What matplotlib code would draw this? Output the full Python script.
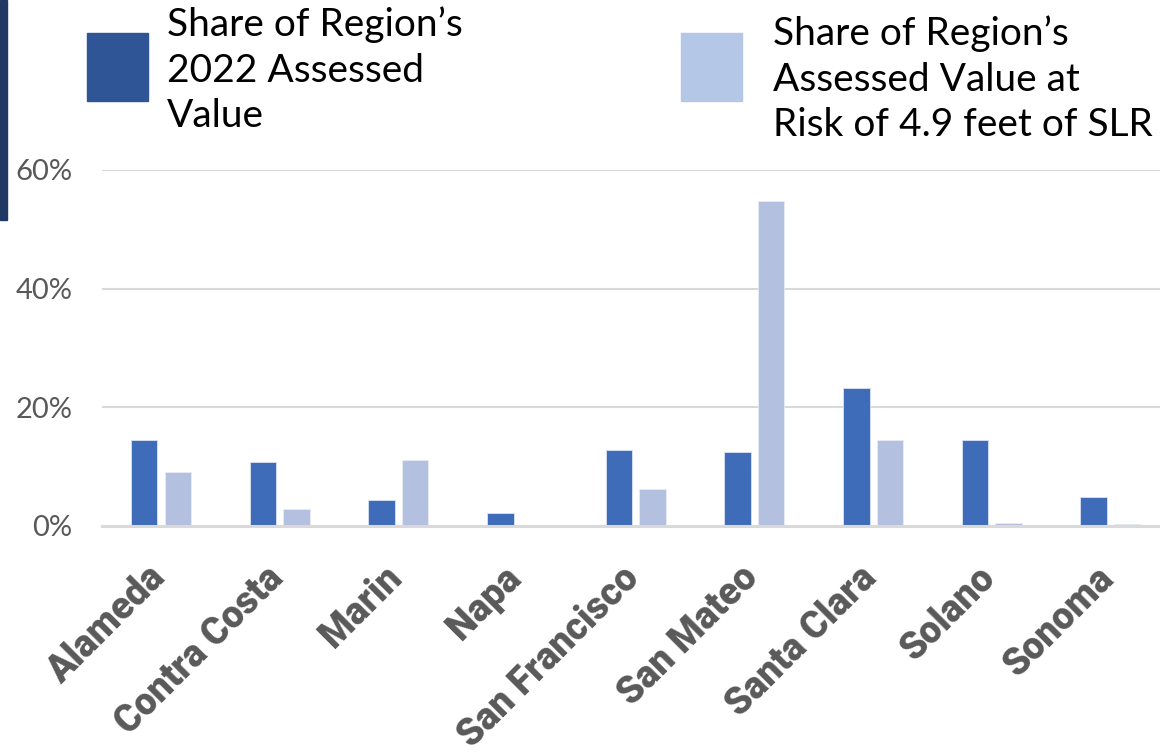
import matplotlib
matplotlib.use("Agg")
import matplotlib.pyplot as plt
from matplotlib.patches import Rectangle
from matplotlib.transforms import ScaledTranslation
import numpy as np

categories = ["Alameda", "Contra Costa", "Marin", "Napa", "San Francisco",
              "San Mateo", "Santa Clara", "Solano", "Sonoma"]
share_assessed = [14.5, 10.7, 4.3, 2.2, 12.7, 12.4, 23.3, 14.4, 4.9]
share_at_risk = [9.1, 2.8, 11.1, 0.15, 6.2, 54.7, 14.5, 0.5, 0.25]
yticks = [0, 20, 40, 60]
ytick_labels = ["0%", "20%", "40%", "60%"]
legend_labels = ["Share of Region\u2019s\n2022 Assessed\nValue",
                 "Share of Region\u2019s\nAssessed Value at\nRisk of 4.9 feet of SLR"]

W, H = 1160, 754
fig = plt.figure(figsize=(W / 100, H / 100), dpi=100)
fig.patch.set_facecolor("white")

spacing = 118.67
left_px = 161 - spacing / 2
ax = fig.add_axes([left_px / W, (H - 525.7) / H, (W - left_px) / W, (525.7 - 170) / H])
xlim_right = -0.5 + (W - left_px) / spacing

x = np.arange(len(categories))
bw = 0.223
off = 0.141
dark = "#3F6CB9"
light = "#B4C0E0"
ax.bar(x - off, share_assessed, width=bw, color=dark, edgecolor="#dbe3f3", linewidth=0.6, zorder=3)
ax.bar(x + off, share_at_risk, width=bw, color=light, edgecolor="#e8ecf6", linewidth=0.6, zorder=3)

ax.set_xlim(-0.5, xlim_right)
ax.set_ylim(0, 60)
ax.set_yticks(yticks)
ax.set_yticklabels(ytick_labels)
ax.yaxis.grid(True, color="#d9d9d9", linewidth=1.5, zorder=0)
ax.set_axisbelow(True)
for s in ["top", "right", "left"]:
    ax.spines[s].set_visible(False)
ax.spines["bottom"].set_color("#d9d9d9")
ax.spines["bottom"].set_linewidth(2.2)
ax.spines["bottom"].set_zorder(4)
ax.tick_params(axis="y", length=0, pad=21, labelsize=21, labelcolor="#595959")
ax.tick_params(axis="x", length=0, pad=24)
for lab in ax.get_yticklabels():
    lab.set_fontfamily("Lato")
    lab.set_fontweight("normal")

ax.set_xticks(x)
ax.set_xticklabels(categories, rotation=45, ha="right", va="top",
                   rotation_mode="anchor", fontsize=27, fontweight="black",
                   color="#595959", fontfamily="Roboto")
shift = ScaledTranslation(-15 / 100, 0, fig.dpi_scale_trans)
for lab in ax.get_xticklabels():
    lab.set_transform(lab.get_transform() + shift)

fig.patches.append(Rectangle((0, (H - 220) / H), 7 / W, 220 / H, transform=fig.transFigure,
                             color="#203864", zorder=5))

legend_colors = ["#2F5597", "#B4C7E7"]
sq_x = [87, 681]
txt_x = [167, 773]
txt_y = [6, 15]
for lbl, c, sx, tx, ty in zip(legend_labels, legend_colors, sq_x, txt_x, txt_y):
    fig.patches.append(Rectangle((sx / W, (H - 101) / H), 61 / W, 68 / H,
                                 transform=fig.transFigure, color=c))
    fig.text(tx / W, 1 - ty / H, lbl, ha="left", va="top", fontsize=28,
             fontfamily="Lato", color="#000000", linespacing=1.34)

fig.savefig("out.png", dpi=100, facecolor="white")
